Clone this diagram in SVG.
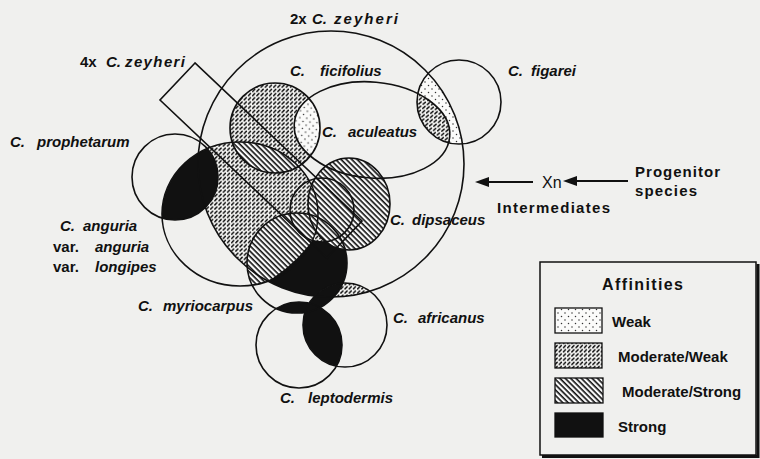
<svg xmlns="http://www.w3.org/2000/svg" xmlns:xlink="http://www.w3.org/1999/xlink" width="760" height="459" viewBox="0 0 760 459">
<style>
.t{font-family:"Liberation Sans",Arial,sans-serif;font-size:15px;font-weight:bold;font-style:italic;fill:#111}
.u{font-style:normal}
.o{fill:none;stroke:#111;stroke-width:1.6}
.sw{stroke:#111;stroke-width:1.3}
</style>
<defs>
<pattern id="pw" width="7" height="7" patternUnits="userSpaceOnUse"><rect width="7" height="7" fill="#fbfbfa"/><circle cx="1.5" cy="1.5" r="0.75" fill="#333"/><circle cx="5" cy="5" r="0.75" fill="#333"/></pattern>
<pattern id="pmw" width="4.2" height="4.2" patternUnits="userSpaceOnUse"><rect width="4.2" height="4.2" fill="#f6f6f4"/><path d="M0.7,3.3 L2.7,1.1" stroke="#111" stroke-width="1.5" stroke-linecap="round"/></pattern>
<pattern id="pms" width="3.8" height="3.8" patternUnits="userSpaceOnUse" patternTransform="rotate(45)"><rect width="3.8" height="3.8" fill="#fafafa"/><rect width="3.8" height="1.6" fill="#111"/></pattern>
<circle id="BIG" cx="331" cy="164" r="133"/>
<circle id="FIG" cx="459" cy="102" r="42"/>
<ellipse id="ACU" cx="372" cy="130" rx="78" ry="48" transform="rotate(5 372 130)"/>
<circle id="FIC" cx="275" cy="128" r="45"/>
<circle id="PRO" cx="175" cy="177" r="43"/>
<ellipse id="ANG" cx="240" cy="214" rx="78" ry="72"/>
<circle id="H" cx="189" cy="150" r="153"/>
<ellipse id="DIP" cx="349" cy="204" rx="41" ry="46"/>
<circle id="Z" cx="322" cy="210" r="32"/>
<circle id="MYR" cx="297" cy="263" r="50"/>
<circle id="AFR" cx="345" cy="325" r="42"/>
<circle id="LEP" cx="299" cy="345" r="43"/>
<clipPath id="cBIG"><use href="#BIG"/></clipPath>
<clipPath id="cFIG"><use href="#FIG"/></clipPath>
<clipPath id="cFIC"><use href="#FIC"/></clipPath>
<clipPath id="cPRO"><use href="#PRO"/></clipPath>
<clipPath id="cMYR"><use href="#MYR"/></clipPath>
<clipPath id="cAFR"><use href="#AFR"/></clipPath>
<clipPath id="cLEP"><use href="#LEP"/></clipPath>
<clipPath id="cANG"><use href="#ANG"/></clipPath>
</defs>
<rect width="760" height="459" fill="#f0f0ee"/>
<g id="shading">
<use href="#FIC" fill="url(#pmw)"/>
<g clip-path="url(#cBIG)"><use href="#ANG" fill="url(#pmw)"/></g>
<g clip-path="url(#cMYR)"><use href="#BIG" fill="#111"/></g>
<g clip-path="url(#cBIG)"><use href="#Z" fill="url(#pmw)"/></g>
<g clip-path="url(#cMYR)"><g clip-path="url(#cANG)"><use href="#H" fill="url(#pms)"/></g></g>
<use href="#DIP" fill="url(#pms)"/>
<g clip-path="url(#cFIC)"><use href="#ANG" fill="url(#pms)"/><use href="#ACU" fill="url(#pw)"/></g>
<g clip-path="url(#cFIG)"><use href="#BIG" fill="url(#pw)"/><use href="#ACU" fill="url(#pmw)"/></g>
<g clip-path="url(#cAFR)"><use href="#BIG" fill="url(#pmw)"/><use href="#MYR" fill="#111"/><use href="#LEP" fill="#111"/></g>
<g clip-path="url(#cMYR)"><use href="#LEP" fill="#111"/></g>
<g clip-path="url(#cPRO)"><use href="#ANG" fill="#111"/></g>
</g>
<g id="node-intermediates"><use href="#BIG" class="o"/><text class="t u" x="290" y="24">2x</text><text class="t" x="312" y="24">C.</text><text class="t" x="334" y="24" textLength="64" lengthAdjust="spacing">zeyheri</text></g>
<g id="node-zeyheri4x"><polygon class="o" points="195,63 160,100 327,258 362,221"/><text class="t u" x="80" y="67">4x</text><text class="t" x="106" y="67">C.</text><text class="t" x="125" y="67" textLength="60" lengthAdjust="spacing">zeyheri</text></g>
<g id="node-ficifolius"><use href="#FIC" class="o"/><text class="t" x="290" y="76">C.</text><text class="t" x="320" y="76">ficifolius</text></g>
<g id="node-figarei"><use href="#FIG" class="o"/><text class="t" x="508" y="76">C.</text><text class="t" x="531" y="76">figarei</text></g>
<g id="node-aculeatus"><use href="#ACU" class="o"/><text class="t" x="322" y="137">C.</text><text class="t" x="348" y="137">aculeatus</text></g>
<g id="node-prophetarum"><use href="#PRO" class="o"/><text class="t" x="10" y="147">C.</text><text class="t" x="37" y="147">prophetarum</text></g>
<g id="node-anguria"><use href="#ANG" class="o"/><text class="t" x="60" y="231">C.</text><text class="t" x="83" y="231">anguria</text><text class="t u" x="53" y="252">var.</text><text class="t" x="95" y="252">anguria</text><text class="t u" x="53" y="272">var.</text><text class="t" x="95" y="272">longipes</text></g>
<g id="node-center"><use href="#Z" class="o"/></g>
<g id="node-dipsaceus"><use href="#DIP" class="o"/><text class="t" x="390" y="225">C.</text><text class="t" x="412" y="225">dipsaceus</text></g>
<g id="node-myriocarpus"><use href="#MYR" class="o"/><text class="t" x="138" y="311">C.</text><text class="t" x="163" y="311">myriocarpus</text></g>
<g id="node-africanus"><use href="#AFR" class="o"/><text class="t" x="393" y="323">C.</text><text class="t" x="418" y="323">africanus</text></g>
<g id="node-leptodermis"><use href="#LEP" class="o"/><text class="t" x="280" y="403">C.</text><text class="t" x="308" y="403">leptodermis</text></g>
<g id="node-xn"><text class="t u" x="542" y="188" style="font-weight:normal;font-size:16px">Xn</text><text class="t u" x="497" y="213" textLength="113" lengthAdjust="spacing">Intermediates</text></g>
<g id="node-progenitor"><text class="t u" x="635" y="177" textLength="85" lengthAdjust="spacing">Progenitor</text><text class="t u" x="635" y="196" textLength="62" lengthAdjust="spacing">species</text></g>
<g id="connectors" stroke="#111" stroke-width="2" fill="#111">
<line x1="533" y1="182" x2="487" y2="182"/><polygon points="475,182 489,177 489,187" stroke="none"/>
<line x1="628" y1="181" x2="575" y2="181"/><polygon points="563,181 577,176 577,186" stroke="none"/>
</g>
<g id="legend">
<rect x="540" y="262" width="216" height="193" fill="none" stroke="#111" stroke-width="1.5"/>
<path d="M542,456.5 H758 V264" fill="none" stroke="#111" stroke-width="3"/>
<text class="t u" x="602" y="290" textLength="81" lengthAdjust="spacing" style="font-size:16px">Affinities</text>
<rect class="sw" x="555" y="308" width="47" height="25" fill="url(#pw)"/><text class="t u" x="612" y="327">Weak</text>
<rect class="sw" x="555" y="343" width="47" height="25" fill="url(#pmw)"/><text class="t u" x="618" y="362">Moderate/Weak</text>
<rect class="sw" x="555" y="378" width="48" height="25" fill="url(#pms)"/><text class="t u" x="622" y="397">Moderate/Strong</text>
<rect class="sw" x="555" y="413" width="48" height="24" fill="#111"/><text class="t u" x="618" y="432">Strong</text>
</g>
</svg>
